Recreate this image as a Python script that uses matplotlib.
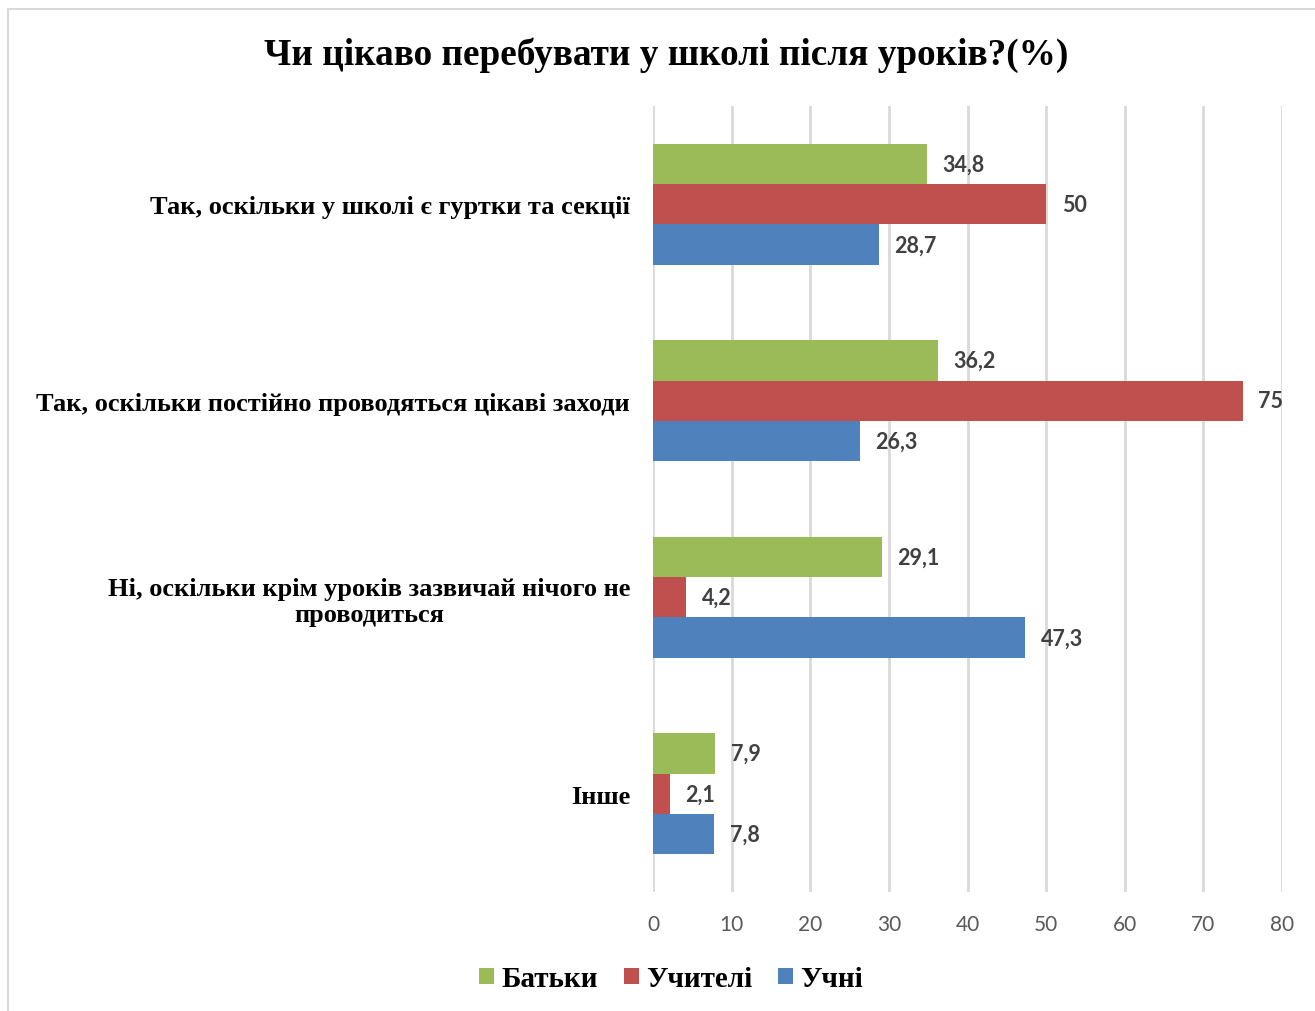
import matplotlib.pyplot as plt
import matplotlib.patches as mpatches
import numpy as np

categories = [
    'Так, оскільки у школі є гуртки та секції',
    'Так, оскільки постійно проводяться цікаві заходи',
    'Ні, оскільки крім уроків зазвичай нічого не\nпроводиться',
    'Інше',
]
series_names = ['Батьки', 'Учителі', 'Учні']
batky = [34.8, 36.2, 29.1, 7.9]
uchyteli = [50, 75, 4.2, 2.1]
uchni = [28.7, 26.3, 47.3, 7.8]
x_ticks = [0, 10, 20, 30, 40, 50, 60, 70, 80]

colors = ['#9BBB59', '#C0504D', '#4F81BD']
serif = 'Liberation Serif'
sans = 'Lato'

fig = plt.figure(figsize=(13.15, 10.12), dpi=100)
ax = fig.add_axes([653 / 1315, 1 - 893 / 1012, (1282 - 653) / 1315, (893 - 107) / 1012])

# chart frame
fig.patches.append(mpatches.Rectangle((8 / 1315, -0.01), 1.1, 1 - 10 / 1012 + 0.01,
                                      transform=fig.transFigure, fill=False,
                                      edgecolor='#D9D9D9', linewidth=1.5))

n = len(categories)
pos = np.arange(n)[::-1].astype(float)
h = 0.206
for i, (vals, col) in enumerate(zip([batky, uchyteli, uchni], colors)):
    ypos = pos + (1 - i) * h
    ax.barh(ypos, vals, height=h, color=col, label=series_names[i], zorder=3)
    for y, v in zip(ypos, vals):
        ax.text(v + 2.0, y, f'{v:g}'.replace('.', ','), va='center', ha='left',
                fontsize=15.5, fontweight='bold', color='#404040', family=sans)

ax.set_xlim(0, 80)
ax.set_ylim(-0.5, n - 0.5)
ax.set_xticks(x_ticks)
ax.set_xticklabels([str(t) for t in x_ticks], fontsize=15, color='#595959', family=sans)
ax.tick_params(axis='x', length=0, pad=16)
ax.set_yticks(pos)
ax.set_yticklabels(categories, fontsize=19, fontweight='bold', family=serif,
                   multialignment='center')
ax.tick_params(axis='y', length=0, pad=16.5)
ax.grid(axis='x', color='#D9D9D9', linewidth=2, zorder=0)
for s in ax.spines.values():
    s.set_visible(False)

fig.text(666 / 1315, 1 - 55 / 1012, 'Чи цікаво перебувати у школі після уроків?(%)',
         ha='center', va='center', fontsize=26.8, fontweight='bold', family=serif)

leg = fig.legend(loc='center', bbox_to_anchor=(671 / 1315, 1 - 980 / 1012), ncol=3,
                 frameon=False, prop={'family': serif, 'weight': 'bold', 'size': 21},
                 handlelength=0.5, handleheight=0.5, handletextpad=0.25, columnspacing=0.9)

fig.savefig('out.png', dpi=100)
